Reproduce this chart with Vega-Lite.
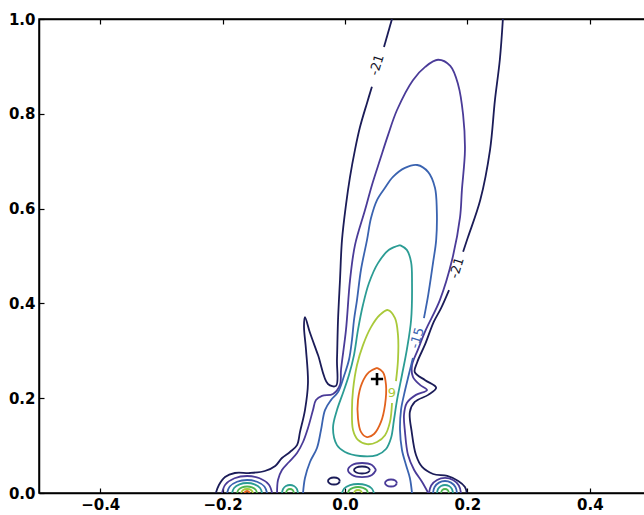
{
"$schema":"https://vega.github.io/schema/vega-lite/v6.json",
"width":612,"height":474,
"autosize":{"type":"none"},
"padding":{"left":39,"top":19,"right":0,"bottom":22},
"background":"white",
"config":{"view":{"stroke":"black","strokeWidth":1.5},
"axis":{"labelFont":"DejaVu Sans","labelFontSize":15,"labelFontWeight":"bold","labelColor":"black","domainColor":"black","domainWidth":1.5,"tickColor":"black","tickSize":-5,"tickWidth":1.2,"grid":false,"labelPadding":9}},
"datasets":{"lines":[
{"s":"A1","c":"n","i":0,"x":0.0768,"y":1.0},{"s":"A1","c":"n","i":1,"x":0.0637,"y":0.941},
{"s":"A2","c":"n","i":0,"x":0.044,"y":0.857},{"s":"A2","c":"n","i":1,"x":0.036,"y":0.823},{"s":"A2","c":"n","i":2,"x":0.0245,"y":0.772},{"s":"A2","c":"n","i":3,"x":0.0163,"y":0.724},{"s":"A2","c":"n","i":4,"x":0.0082,"y":0.667},{"s":"A2","c":"n","i":5,"x":0.0016,"y":0.608},{"s":"A2","c":"n","i":6,"x":-0.0049,"y":0.534},{"s":"A2","c":"n","i":7,"x":-0.0082,"y":0.449},{"s":"A2","c":"n","i":8,"x":-0.0114,"y":0.365},{"s":"A2","c":"n","i":9,"x":-0.0131,"y":0.281},{"s":"A2","c":"n","i":10,"x":-0.0147,"y":0.226},{"s":"A2","c":"n","i":11,"x":-0.0278,"y":0.23},{"s":"A2","c":"n","i":12,"x":-0.0441,"y":0.291},{"s":"A2","c":"n","i":13,"x":-0.0572,"y":0.338},{"s":"A2","c":"n","i":14,"x":-0.0654,"y":0.371},{"s":"A2","c":"n","i":15,"x":-0.067,"y":0.352},{"s":"A2","c":"n","i":16,"x":-0.0637,"y":0.302},{"s":"A2","c":"n","i":17,"x":-0.0605,"y":0.232},{"s":"A2","c":"n","i":18,"x":-0.0654,"y":0.175},{"s":"A2","c":"n","i":19,"x":-0.0735,"y":0.129},{"s":"A2","c":"n","i":20,"x":-0.0784,"y":0.101},{"s":"A2","c":"n","i":21,"x":-0.0899,"y":0.0865},{"s":"A2","c":"n","i":22,"x":-0.103,"y":0.0739},{"s":"A2","c":"n","i":23,"x":-0.114,"y":0.057},{"s":"A2","c":"n","i":24,"x":-0.131,"y":0.0464},{"s":"A2","c":"n","i":25,"x":-0.155,"y":0.0422},{"s":"A2","c":"n","i":26,"x":-0.18,"y":0.0422},{"s":"A2","c":"n","i":27,"x":-0.196,"y":0.0338},{"s":"A2","c":"n","i":28,"x":-0.206,"y":0.0169},{"s":"A2","c":"n","i":29,"x":-0.211,"y":0},
{"s":"B1","c":"n","i":0,"x":0.258,"y":1.0},{"s":"B1","c":"n","i":1,"x":0.253,"y":0.914},{"s":"B1","c":"n","i":2,"x":0.245,"y":0.829},{"s":"B1","c":"n","i":3,"x":0.237,"y":0.724},{"s":"B1","c":"n","i":4,"x":0.221,"y":0.618},{"s":"B1","c":"n","i":5,"x":0.201,"y":0.54},{"s":"B1","c":"n","i":6,"x":0.193,"y":0.509},
{"s":"B2","c":"n","i":0,"x":0.17,"y":0.428},{"s":"B2","c":"n","i":1,"x":0.157,"y":0.39},{"s":"B2","c":"n","i":2,"x":0.145,"y":0.361},{"s":"B2","c":"n","i":3,"x":0.131,"y":0.314},{"s":"B2","c":"n","i":4,"x":0.118,"y":0.276},{"s":"B2","c":"n","i":5,"x":0.114,"y":0.255},{"s":"B2","c":"n","i":6,"x":0.131,"y":0.238},{"s":"B2","c":"n","i":7,"x":0.149,"y":0.222},{"s":"B2","c":"n","i":8,"x":0.136,"y":0.207},{"s":"B2","c":"n","i":9,"x":0.114,"y":0.192},{"s":"B2","c":"n","i":10,"x":0.106,"y":0.171},{"s":"B2","c":"n","i":11,"x":0.109,"y":0.129},{"s":"B2","c":"n","i":12,"x":0.116,"y":0.08},{"s":"B2","c":"n","i":13,"x":0.126,"y":0.0549},{"s":"B2","c":"n","i":14,"x":0.144,"y":0.0401},{"s":"B2","c":"n","i":15,"x":0.167,"y":0.0359},{"s":"B2","c":"n","i":16,"x":0.185,"y":0.0253},{"s":"B2","c":"n","i":17,"x":0.196,"y":0.0127},{"s":"B2","c":"n","i":18,"x":0.199,"y":0},
{"s":"P","c":"p","i":0,"x":-0.111,"y":0},{"s":"P","c":"p","i":1,"x":-0.1095,"y":0.0274},{"s":"P","c":"p","i":2,"x":-0.103,"y":0.0485},{"s":"P","c":"p","i":3,"x":-0.0915,"y":0.0654},{"s":"P","c":"p","i":4,"x":-0.0784,"y":0.0844},{"s":"P","c":"p","i":5,"x":-0.0686,"y":0.1076},{"s":"P","c":"p","i":6,"x":-0.0605,"y":0.137},{"s":"P","c":"p","i":7,"x":-0.0523,"y":0.175},{"s":"P","c":"p","i":8,"x":-0.0474,"y":0.196},{"s":"P","c":"p","i":9,"x":-0.0376,"y":0.205},{"s":"P","c":"p","i":10,"x":-0.0196,"y":0.209},{"s":"P","c":"p","i":11,"x":-0.0082,"y":0.228},{"s":"P","c":"p","i":12,"x":-0.0065,"y":0.26},{"s":"P","c":"p","i":13,"x":0.0016,"y":0.344},{"s":"P","c":"p","i":14,"x":0.0082,"y":0.449},{"s":"P","c":"p","i":15,"x":0.0163,"y":0.523},{"s":"P","c":"p","i":16,"x":0.0327,"y":0.597},{"s":"P","c":"p","i":17,"x":0.0441,"y":0.65},{"s":"P","c":"p","i":18,"x":0.0572,"y":0.703},{"s":"P","c":"p","i":19,"x":0.0703,"y":0.755},{"s":"P","c":"p","i":20,"x":0.085,"y":0.808},{"s":"P","c":"p","i":21,"x":0.111,"y":0.871},{"s":"P","c":"p","i":22,"x":0.131,"y":0.899},{"s":"P","c":"p","i":23,"x":0.152,"y":0.914},{"s":"P","c":"p","i":24,"x":0.172,"y":0.901},{"s":"P","c":"p","i":25,"x":0.185,"y":0.861},{"s":"P","c":"p","i":26,"x":0.193,"y":0.798},{"s":"P","c":"p","i":27,"x":0.196,"y":0.724},{"s":"P","c":"p","i":28,"x":0.191,"y":0.639},{"s":"P","c":"p","i":29,"x":0.188,"y":0.582},{"s":"P","c":"p","i":30,"x":0.175,"y":0.492},{"s":"P","c":"p","i":31,"x":0.155,"y":0.407},{"s":"P","c":"p","i":32,"x":0.132,"y":0.344},{"s":"P","c":"p","i":33,"x":0.119,"y":0.302},{"s":"P","c":"p","i":34,"x":0.1095,"y":0.27},{"s":"P","c":"p","i":35,"x":0.111,"y":0.245},{"s":"P","c":"p","i":36,"x":0.1225,"y":0.228},{"s":"P","c":"p","i":37,"x":0.134,"y":0.217},{"s":"P","c":"p","i":38,"x":0.116,"y":0.207},{"s":"P","c":"p","i":39,"x":0.101,"y":0.19},{"s":"P","c":"p","i":40,"x":0.0964,"y":0.165},{"s":"P","c":"p","i":41,"x":0.098,"y":0.129},{"s":"P","c":"p","i":42,"x":0.103,"y":0.08},{"s":"P","c":"p","i":43,"x":0.113,"y":0.0485},{"s":"P","c":"p","i":44,"x":0.126,"y":0.0232},{"s":"P","c":"p","i":45,"x":0.136,"y":0},
{"s":"C1","c":"b","i":0,"x":-0.0686,"y":0},{"s":"C1","c":"b","i":1,"x":-0.0654,"y":0.0317},{"s":"C1","c":"b","i":2,"x":-0.0572,"y":0.0654},{"s":"C1","c":"b","i":3,"x":-0.0458,"y":0.095},{"s":"C1","c":"b","i":4,"x":-0.0392,"y":0.133},{"s":"C1","c":"b","i":5,"x":-0.0327,"y":0.175},{"s":"C1","c":"b","i":6,"x":-0.0229,"y":0.196},{"s":"C1","c":"b","i":7,"x":-0.0114,"y":0.213},{"s":"C1","c":"b","i":8,"x":-0.0016,"y":0.247},{"s":"C1","c":"b","i":9,"x":0.0065,"y":0.281},{"s":"C1","c":"b","i":10,"x":0.0114,"y":0.323},{"s":"C1","c":"b","i":11,"x":0.0147,"y":0.365},{"s":"C1","c":"b","i":12,"x":0.0196,"y":0.407},{"s":"C1","c":"b","i":13,"x":0.0261,"y":0.471},{"s":"C1","c":"b","i":14,"x":0.036,"y":0.534},{"s":"C1","c":"b","i":15,"x":0.0425,"y":0.58},{"s":"C1","c":"b","i":16,"x":0.0523,"y":0.618},{"s":"C1","c":"b","i":17,"x":0.0654,"y":0.644},{"s":"C1","c":"b","i":18,"x":0.0784,"y":0.667},{"s":"C1","c":"b","i":19,"x":0.098,"y":0.686},{"s":"C1","c":"b","i":20,"x":0.118,"y":0.692},{"s":"C1","c":"b","i":21,"x":0.136,"y":0.677},{"s":"C1","c":"b","i":22,"x":0.147,"y":0.644},{"s":"C1","c":"b","i":23,"x":0.15,"y":0.597},{"s":"C1","c":"b","i":24,"x":0.149,"y":0.534},{"s":"C1","c":"b","i":25,"x":0.144,"y":0.487},{"s":"C1","c":"b","i":26,"x":0.136,"y":0.418},{"s":"C1","c":"b","i":27,"x":0.129,"y":0.369},
{"s":"C2","c":"b","i":0,"x":0.111,"y":0.285},{"s":"C2","c":"b","i":1,"x":0.103,"y":0.243},{"s":"C2","c":"b","i":2,"x":0.0964,"y":0.207},{"s":"C2","c":"b","i":3,"x":0.0915,"y":0.175},{"s":"C2","c":"b","i":4,"x":0.0899,"y":0.133},{"s":"C2","c":"b","i":5,"x":0.0931,"y":0.0907},{"s":"C2","c":"b","i":6,"x":0.0997,"y":0.0591},{"s":"C2","c":"b","i":7,"x":0.106,"y":0.0317},{"s":"C2","c":"b","i":8,"x":0.1095,"y":0},
{"s":"T","c":"t","i":0,"x":0.0899,"y":0.523},{"s":"T","c":"t","i":1,"x":0.101,"y":0.513},{"s":"T","c":"t","i":2,"x":0.108,"y":0.487},{"s":"T","c":"t","i":3,"x":0.1095,"y":0.443},{"s":"T","c":"t","i":4,"x":0.108,"y":0.365},{"s":"T","c":"t","i":5,"x":0.101,"y":0.302},{"s":"T","c":"t","i":6,"x":0.0931,"y":0.249},{"s":"T","c":"t","i":7,"x":0.085,"y":0.196},{"s":"T","c":"t","i":8,"x":0.08,"y":0.154},{"s":"T","c":"t","i":9,"x":0.0752,"y":0.116},{"s":"T","c":"t","i":10,"x":0.067,"y":0.0928},{"s":"T","c":"t","i":11,"x":0.0523,"y":0.08},{"s":"T","c":"t","i":12,"x":0.0245,"y":0.0781},{"s":"T","c":"t","i":13,"x":0,"y":0.0865},{"s":"T","c":"t","i":14,"x":-0.0131,"y":0.101},{"s":"T","c":"t","i":15,"x":-0.0196,"y":0.137},{"s":"T","c":"t","i":16,"x":-0.0131,"y":0.175},{"s":"T","c":"t","i":17,"x":-0.0033,"y":0.211},{"s":"T","c":"t","i":18,"x":0.0065,"y":0.249},{"s":"T","c":"t","i":19,"x":0.0147,"y":0.291},{"s":"T","c":"t","i":20,"x":0.0212,"y":0.344},{"s":"T","c":"t","i":21,"x":0.0294,"y":0.397},{"s":"T","c":"t","i":22,"x":0.0392,"y":0.443},{"s":"T","c":"t","i":23,"x":0.0539,"y":0.485},{"s":"T","c":"t","i":24,"x":0.0719,"y":0.513},{"s":"T","c":"t","i":25,"x":0.0899,"y":0.523},
{"s":"Y","c":"y","i":0,"x":0.0768,"y":0.19},{"s":"Y","c":"y","i":1,"x":0.0735,"y":0.15},{"s":"Y","c":"y","i":2,"x":0.0654,"y":0.122},{"s":"Y","c":"y","i":3,"x":0.0523,"y":0.1076},{"s":"Y","c":"y","i":4,"x":0.036,"y":0.103},{"s":"Y","c":"y","i":5,"x":0.0212,"y":0.112},{"s":"Y","c":"y","i":6,"x":0.0131,"y":0.133},{"s":"Y","c":"y","i":7,"x":0.0114,"y":0.175},{"s":"Y","c":"y","i":8,"x":0.0131,"y":0.217},{"s":"Y","c":"y","i":9,"x":0.0196,"y":0.27},{"s":"Y","c":"y","i":10,"x":0.0294,"y":0.312},{"s":"Y","c":"y","i":11,"x":0.0425,"y":0.35},{"s":"Y","c":"y","i":12,"x":0.0572,"y":0.376},{"s":"Y","c":"y","i":13,"x":0.0703,"y":0.386},{"s":"Y","c":"y","i":14,"x":0.0817,"y":0.369},{"s":"Y","c":"y","i":15,"x":0.0866,"y":0.333},{"s":"Y","c":"y","i":16,"x":0.0866,"y":0.281},{"s":"Y","c":"y","i":17,"x":0.0833,"y":0.236},
{"s":"O","c":"o","i":0,"x":0.0523,"y":0.264},{"s":"O","c":"o","i":1,"x":0.0621,"y":0.255},{"s":"O","c":"o","i":2,"x":0.067,"y":0.228},{"s":"O","c":"o","i":3,"x":0.0654,"y":0.186},{"s":"O","c":"o","i":4,"x":0.0588,"y":0.15},{"s":"O","c":"o","i":5,"x":0.0474,"y":0.1245},{"s":"O","c":"o","i":6,"x":0.036,"y":0.118},{"s":"O","c":"o","i":7,"x":0.0261,"y":0.129},{"s":"O","c":"o","i":8,"x":0.0212,"y":0.158},{"s":"O","c":"o","i":9,"x":0.0212,"y":0.196},{"s":"O","c":"o","i":10,"x":0.0278,"y":0.232},{"s":"O","c":"o","i":11,"x":0.0392,"y":0.255},{"s":"O","c":"o","i":12,"x":0.0523,"y":0.264},
{"s":"L1p","c":"p","i":0,"x":-0.2009,"y":0},{"s":"L1p","c":"p","i":1,"x":-0.1954,"y":0.018},{"s":"L1p","c":"p","i":2,"x":-0.1805,"y":0.0311},{"s":"L1p","c":"p","i":3,"x":-0.16,"y":0.0359},{"s":"L1p","c":"p","i":4,"x":-0.1395,"y":0.0311},{"s":"L1p","c":"p","i":5,"x":-0.1246,"y":0.018},{"s":"L1p","c":"p","i":6,"x":-0.1191,"y":0},
{"s":"L1b","c":"b","i":0,"x":-0.1927,"y":0},{"s":"L1b","c":"b","i":1,"x":-0.1883,"y":0.0137},{"s":"L1b","c":"b","i":2,"x":-0.1764,"y":0.0237},{"s":"L1b","c":"b","i":3,"x":-0.16,"y":0.0274},{"s":"L1b","c":"b","i":4,"x":-0.1437,"y":0.0237},{"s":"L1b","c":"b","i":5,"x":-0.1317,"y":0.0137},{"s":"L1b","c":"b","i":6,"x":-0.1273,"y":0},
{"s":"L1t","c":"t","i":0,"x":-0.1845,"y":0},{"s":"L1t","c":"t","i":1,"x":-0.1812,"y":0.0106},{"s":"L1t","c":"t","i":2,"x":-0.1723,"y":0.0183},{"s":"L1t","c":"t","i":3,"x":-0.16,"y":0.0211},{"s":"L1t","c":"t","i":4,"x":-0.1478,"y":0.0183},{"s":"L1t","c":"t","i":5,"x":-0.1388,"y":0.0106},{"s":"L1t","c":"t","i":6,"x":-0.1355,"y":0},
{"s":"L1g","c":"g","i":0,"x":-0.1763,"y":0},{"s":"L1g","c":"g","i":1,"x":-0.1741,"y":0.0069},{"s":"L1g","c":"g","i":2,"x":-0.1682,"y":0.0119},{"s":"L1g","c":"g","i":3,"x":-0.16,"y":0.0137},{"s":"L1g","c":"g","i":4,"x":-0.1519,"y":0.0119},{"s":"L1g","c":"g","i":5,"x":-0.1459,"y":0.0069},{"s":"L1g","c":"g","i":6,"x":-0.1437,"y":0},
{"s":"L1y","c":"y","i":0,"x":-0.1698,"y":0},{"s":"L1y","c":"y","i":1,"x":-0.1669,"y":0.0059},{"s":"L1y","c":"y","i":2,"x":-0.16,"y":0.0084},{"s":"L1y","c":"y","i":3,"x":-0.1531,"y":0.0059},{"s":"L1y","c":"y","i":4,"x":-0.1502,"y":0},
{"s":"L1o","c":"o","i":0,"x":-0.1649,"y":0},{"s":"L1o","c":"o","i":1,"x":-0.16,"y":0.0042},{"s":"L1o","c":"o","i":2,"x":-0.1551,"y":0},
{"s":"L2t","c":"t","i":0,"x":-0.103,"y":0},{"s":"L2t","c":"t","i":1,"x":-0.1012,"y":0.0085},{"s":"L2t","c":"t","i":2,"x":-0.0965,"y":0.0146},{"s":"L2t","c":"t","i":3,"x":-0.0899,"y":0.0169},{"s":"L2t","c":"t","i":4,"x":-0.0834,"y":0.0146},{"s":"L2t","c":"t","i":5,"x":-0.0786,"y":0.0085},{"s":"L2t","c":"t","i":6,"x":-0.0768,"y":0},
{"s":"L2g","c":"g","i":0,"x":-0.0964,"y":0},{"s":"L2g","c":"g","i":1,"x":-0.0945,"y":0.0059},{"s":"L2g","c":"g","i":2,"x":-0.0899,"y":0.0084},{"s":"L2g","c":"g","i":3,"x":-0.0853,"y":0.0059},{"s":"L2g","c":"g","i":4,"x":-0.0834,"y":0},
{"s":"CBt","c":"t","i":0,"x":-0.0049,"y":0},{"s":"CBt","c":"t","i":1,"x":-0.0014,"y":0.0095},{"s":"CBt","c":"t","i":2,"x":0.0082,"y":0.0165},{"s":"CBt","c":"t","i":3,"x":0.0212,"y":0.019},{"s":"CBt","c":"t","i":4,"x":0.0343,"y":0.0165},{"s":"CBt","c":"t","i":5,"x":0.0438,"y":0.0095},{"s":"CBt","c":"t","i":6,"x":0.0473,"y":0},
{"s":"CBg","c":"g","i":0,"x":0.0049,"y":0},{"s":"CBg","c":"g","i":1,"x":0.0071,"y":0.0064},{"s":"CBg","c":"g","i":2,"x":0.0131,"y":0.011},{"s":"CBg","c":"g","i":3,"x":0.0212,"y":0.0127},{"s":"CBg","c":"g","i":4,"x":0.0294,"y":0.011},{"s":"CBg","c":"g","i":5,"x":0.0353,"y":0.0064},{"s":"CBg","c":"g","i":6,"x":0.0375,"y":0},
{"s":"CBy","c":"y","i":0,"x":0.0147,"y":0},{"s":"CBy","c":"y","i":1,"x":0.0166,"y":0.0045},{"s":"CBy","c":"y","i":2,"x":0.0212,"y":0.0063},{"s":"CBy","c":"y","i":3,"x":0.0258,"y":0.0045},{"s":"CBy","c":"y","i":4,"x":0.0277,"y":0},
{"s":"RN","c":"n","i":0,"x":0.0409,"y":0.0485},{"s":"RN","c":"n","i":1,"x":0.0371,"y":0.0537},{"s":"RN","c":"n","i":2,"x":0.0278,"y":0.0559},{"s":"RN","c":"n","i":3,"x":0.0185,"y":0.0537},{"s":"RN","c":"n","i":4,"x":0.0147,"y":0.0485},{"s":"RN","c":"n","i":5,"x":0.0185,"y":0.0433},{"s":"RN","c":"n","i":6,"x":0.0278,"y":0.0411},{"s":"RN","c":"n","i":7,"x":0.0371,"y":0.0433},{"s":"RN","c":"n","i":8,"x":0.0409,"y":0.0485},
{"s":"RP","c":"p","i":0,"x":0.0507,"y":0.0485},{"s":"RP","c":"p","i":1,"x":0.044,"y":0.059},{"s":"RP","c":"p","i":2,"x":0.0278,"y":0.0633},{"s":"RP","c":"p","i":3,"x":0.0116,"y":0.059},{"s":"RP","c":"p","i":4,"x":0.0049,"y":0.0485},{"s":"RP","c":"p","i":5,"x":0.0116,"y":0.038},{"s":"RP","c":"p","i":6,"x":0.0278,"y":0.0337},{"s":"RP","c":"p","i":7,"x":0.044,"y":0.038},{"s":"RP","c":"p","i":8,"x":0.0507,"y":0.0485},
{"s":"SN","c":"n","i":0,"x":-0.0082,"y":0.0253},{"s":"SN","c":"n","i":1,"x":-0.0111,"y":0.0305},{"s":"SN","c":"n","i":2,"x":-0.018,"y":0.0327},{"s":"SN","c":"n","i":3,"x":-0.0249,"y":0.0305},{"s":"SN","c":"n","i":4,"x":-0.0278,"y":0.0253},{"s":"SN","c":"n","i":5,"x":-0.0249,"y":0.0201},{"s":"SN","c":"n","i":6,"x":-0.018,"y":0.0179},{"s":"SN","c":"n","i":7,"x":-0.0111,"y":0.0201},{"s":"SN","c":"n","i":8,"x":-0.0082,"y":0.0253},
{"s":"SP","c":"p","i":0,"x":0.085,"y":0.0211},{"s":"SP","c":"p","i":1,"x":0.0821,"y":0.0263},{"s":"SP","c":"p","i":2,"x":0.0752,"y":0.0285},{"s":"SP","c":"p","i":3,"x":0.0683,"y":0.0263},{"s":"SP","c":"p","i":4,"x":0.0654,"y":0.0211},{"s":"SP","c":"p","i":5,"x":0.0683,"y":0.0159},{"s":"SP","c":"p","i":6,"x":0.0752,"y":0.0137},{"s":"SP","c":"p","i":7,"x":0.0821,"y":0.0159},{"s":"SP","c":"p","i":8,"x":0.085,"y":0.0211},
{"s":"R1p","c":"p","i":0,"x":0.1373,"y":0},{"s":"R1p","c":"p","i":1,"x":0.1408,"y":0.0159},{"s":"R1p","c":"p","i":2,"x":0.1504,"y":0.0275},{"s":"R1p","c":"p","i":3,"x":0.1634,"y":0.0317},{"s":"R1p","c":"p","i":4,"x":0.1765,"y":0.0275},{"s":"R1p","c":"p","i":5,"x":0.186,"y":0.0159},{"s":"R1p","c":"p","i":6,"x":0.1895,"y":0},
{"s":"R1b","c":"b","i":0,"x":0.1438,"y":0},{"s":"R1b","c":"b","i":1,"x":0.1464,"y":0.0127},{"s":"R1b","c":"b","i":2,"x":0.1536,"y":0.0219},{"s":"R1b","c":"b","i":3,"x":0.1634,"y":0.0253},{"s":"R1b","c":"b","i":4,"x":0.1732,"y":0.0219},{"s":"R1b","c":"b","i":5,"x":0.1804,"y":0.0127},{"s":"R1b","c":"b","i":6,"x":0.183,"y":0},
{"s":"R1t","c":"t","i":0,"x":0.1503,"y":0},{"s":"R1t","c":"t","i":1,"x":0.152,"y":0.0085},{"s":"R1t","c":"t","i":2,"x":0.1569,"y":0.0146},{"s":"R1t","c":"t","i":3,"x":0.1634,"y":0.0169},{"s":"R1t","c":"t","i":4,"x":0.17,"y":0.0146},{"s":"R1t","c":"t","i":5,"x":0.1747,"y":0.0085},{"s":"R1t","c":"t","i":6,"x":0.1765,"y":0},
{"s":"R1g","c":"g","i":0,"x":0.1569,"y":0},{"s":"R1g","c":"g","i":1,"x":0.1588,"y":0.0059},{"s":"R1g","c":"g","i":2,"x":0.1634,"y":0.0084},{"s":"R1g","c":"g","i":3,"x":0.168,"y":0.0059},{"s":"R1g","c":"g","i":4,"x":0.1699,"y":0}
],
"rot":[{"t":"-21","c":"k","x":0.0523,"y":0.903},{"t":"-21","c":"k","x":0.183,"y":0.475},{"t":"-15","c":"b","x":0.118,"y":0.327}],
"flat":[{"t":"9","c":"y","x":0.0768,"y":0.211}],
"marker":[{"x":0.0523,"y":0.2405}]},
"layer":[
{"data":{"name":"lines"},
"mark":{"type":"line","interpolate":"catmull-rom","strokeWidth":1.8,"clip":true},
"encoding":{
"x":{"field":"x","type":"quantitative","scale":{"domain":[-0.5,0.5],"nice":false,"zero":false},"axis":{"orient":"bottom","values":[-0.4,-0.2,0,0.2,0.4],"format":".1f","title":null}},
"y":{"field":"y","type":"quantitative","scale":{"domain":[0,1],"nice":false,"zero":false},"axis":{"values":[0,0.2,0.4,0.6,0.8,1],"format":".1f","title":null}},
"detail":{"field":"s"},
"order":{"field":"i","type":"quantitative"},
"color":{"field":"c","type":"nominal","scale":{"domain":["n","p","b","t","g","y","o","k"],"range":["#1b1c58","#4a3b98","#3a63b0","#2b9c94","#4fb54f","#a9c93a","#e2621d","#141428"]},"legend":null}}},
{"data":{"name":"marker"},
"mark":{"type":"point","shape":"M-1,0L1,0M0,-1L0,1","size":150,"stroke":"black","strokeWidth":2.6,"filled":false,"opacity":1},
"encoding":{
"x":{"field":"x","type":"quantitative","axis":{"orient":"top","values":[-0.4,-0.2,0,0.2,0.4],"labels":false,"title":null}},
"y":{"field":"y","type":"quantitative"}}},
{"data":{"name":"rot"},
"mark":{"type":"text","angle":-73,"font":"DejaVu Sans","fontSize":13,"align":"center","baseline":"middle"},
"encoding":{
"x":{"field":"x","type":"quantitative","axis":null},
"y":{"field":"y","type":"quantitative"},
"text":{"field":"t"},
"color":{"field":"c","type":"nominal","legend":null}}},
{"data":{"name":"flat"},
"mark":{"type":"text","font":"DejaVu Sans","fontSize":13,"align":"center","baseline":"middle"},
"encoding":{
"x":{"field":"x","type":"quantitative","axis":null},
"y":{"field":"y","type":"quantitative"},
"text":{"field":"t"},
"color":{"field":"c","type":"nominal","legend":null}}}
],
"resolve":{"axis":{"x":"independent"}}
}
